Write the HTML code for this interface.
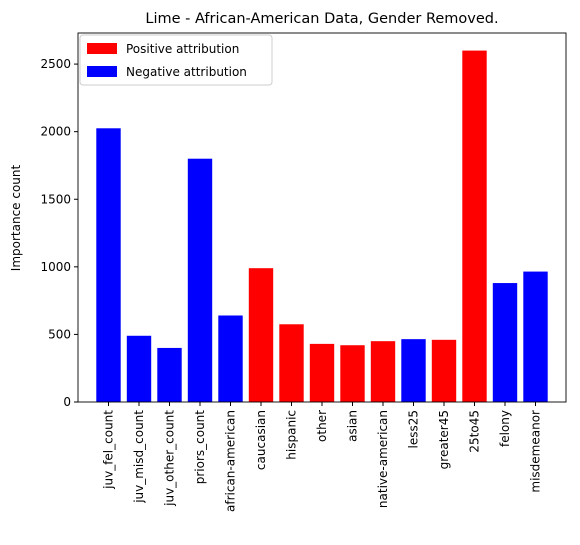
<!DOCTYPE html>
<html><head><meta charset="utf-8"><style>
body{margin:0;background:#fff;font-family:"Liberation Sans","DejaVu Sans",sans-serif;}
svg text{font-family:"DejaVu Sans","Liberation Sans",sans-serif;}
</style></head><body>
<svg id="chart" width="580" height="540">
<text x="322" y="23" font-size="14.5" text-anchor="middle">Lime - African-American Data, Gender Removed.</text>
<g id="bars"></g>
<g id="axes"></g>
<text transform="translate(20,218) rotate(-90)" font-size="12" text-anchor="middle">Importance count</text>
<g>
<rect x="80" y="35" width="192" height="50" fill="#fff" stroke="#ccc" rx="3"/>
<rect x="87" y="43" width="30" height="11" fill="#ff0000"/>
<text x="126" y="53" font-size="12">Positive attribution</text>
<rect x="87" y="66" width="30" height="11" fill="#0000ff"/>
<text x="126" y="76" font-size="12">Negative attribution</text>
</g>
</svg>
<script>
const categories=["juv_fel_count","juv_misd_count","juv_other_count","priors_count","african-american","caucasian","hispanic","other","asian","native-american","less25","greater45","25to45","felony","misdemeanor"];
const values=[2025,490,400,1800,640,990,575,430,420,450,465,460,2600,880,965];
const positive=[0,0,0,0,0,1,1,1,1,1,0,1,1,0,0];
const yTicks=[0,500,1000,1500,2000,2500];
const NS="http://www.w3.org/2000/svg";
const L=78,R=566,T=33,B=402,yMax=2730;
const n=categories.length;
const step=(R-L)/(n+1);
const xs=i=>L+step*(1+i);
const ys=v=>B-(v/yMax)*(B-T);
const bw=step*0.8;
const bars=document.getElementById('bars'),axes=document.getElementById('axes');
function mk(t,a,p){const e=document.createElementNS(NS,t);for(const k in a)e.setAttribute(k,a[k]);p.appendChild(e);return e;}
categories.forEach((c,i)=>{
 const r=mk('rect',{x:xs(i)-bw/2,y:ys(values[i]),width:bw,height:B-ys(values[i]),fill:positive[i]?'#ff0000':'#0000ff'},bars);
 
 
 mk('line',{x1:xs(i),x2:xs(i),y1:B,y2:B+4,stroke:'#000'},axes);
 const t=mk('text',{transform:`translate(${xs(i)+4},${B+8}) rotate(-90)`,'font-size':12,'text-anchor':'end'},axes);
 t.textContent=c;
 
 
});
yTicks.forEach(v=>{
 mk('line',{x1:L-4,x2:L,y1:ys(v),y2:ys(v),stroke:'#000'},axes);
 const t=mk('text',{x:L-7,y:ys(v)+4,'font-size':12,'text-anchor':'end'},axes);
 t.textContent=v;
 
 
});
const f=mk('rect',{x:L,y:T,width:R-L,height:B-T,fill:'none',stroke:'#000','stroke-width':0.9},axes);


</script>
</body></html>
